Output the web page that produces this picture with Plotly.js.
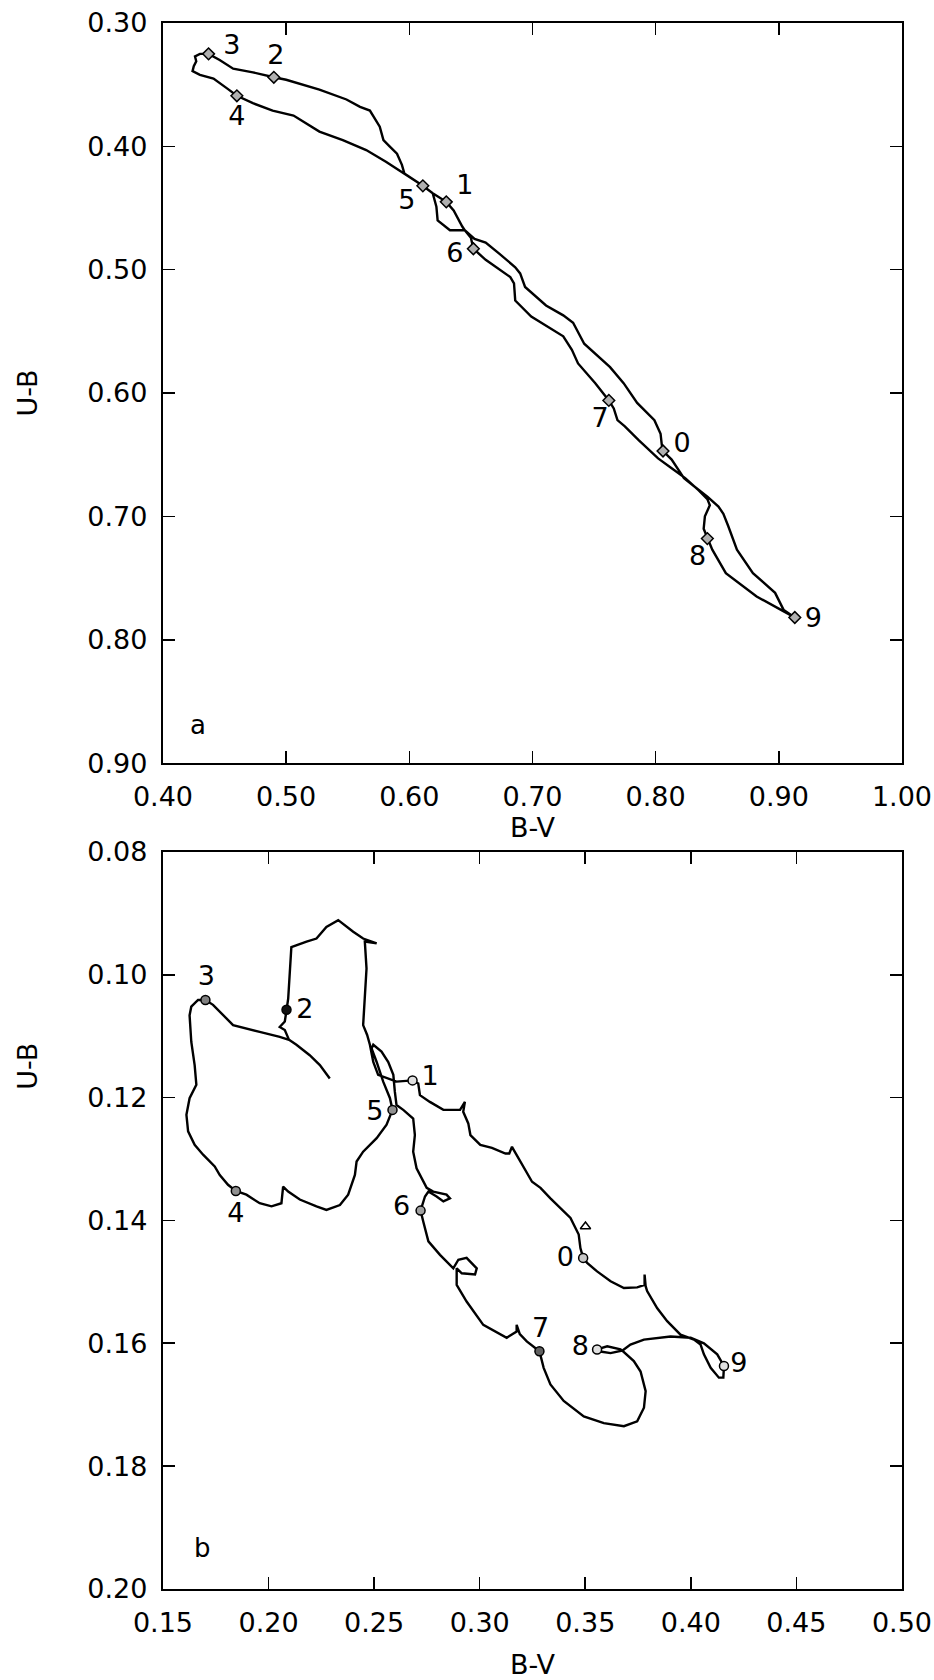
<!DOCTYPE html>
<html>
<head>
<meta charset="utf-8">
<script src="https://cdn.plot.ly/plotly-3.0.1.min.js"></script>
<style>
  html, body { margin: 0; padding: 0; background: #ffffff; }
  #chart { width: 934px; height: 1680px; }
</style>
</head>
<body>
<div id="chart"></div>
<script>
// ---------- Panel a : U-B vs B-V loop ----------
const bvA = [0.806,0.805,0.804,0.799,0.785,0.774,0.763,0.742,0.733,0.725,0.711,0.694,0.690,0.686,0.673,0.662,0.653,0.645,0.643,0.636,0.630,0.619,0.611,0.596,0.594,0.590,0.584,0.579,0.576,0.573,0.568,0.560,0.549,0.527,0.511,0.500,0.490,0.473,0.457,0.446,0.437,0.430,0.426,0.427,0.425,0.424,0.430,0.441,0.452,0.460,0.473,0.489,0.506,0.514,0.527,0.546,0.565,0.581,0.596,0.611,0.619,0.622,0.623,0.633,0.645,0.650,0.652,0.662,0.682,0.685,0.686,0.699,0.725,0.732,0.737,0.751,0.762,0.766,0.769,0.775,0.786,0.802,0.813,0.824,0.835,0.842,0.844,0.840,0.839,0.842,0.846,0.857,0.882,0.904,0.913,0.904,0.897,0.879,0.866,0.859,0.855,0.851,0.842,0.833,0.823,0.813,0.806];
const ubA = [0.647,0.642,0.633,0.622,0.608,0.592,0.579,0.560,0.543,0.537,0.529,0.514,0.503,0.498,0.487,0.478,0.475,0.468,0.465,0.452,0.445,0.438,0.432,0.422,0.415,0.406,0.400,0.395,0.384,0.379,0.371,0.368,0.362,0.354,0.349,0.346,0.344,0.340,0.337,0.330,0.325,0.325,0.327,0.331,0.335,0.339,0.342,0.345,0.353,0.359,0.365,0.371,0.375,0.380,0.388,0.395,0.403,0.4125,0.422,0.432,0.438,0.449,0.460,0.468,0.468,0.474,0.483,0.492,0.506,0.511,0.525,0.538,0.554,0.565,0.576,0.592,0.606,0.6125,0.622,0.627,0.638,0.653,0.661,0.669,0.679,0.686,0.691,0.700,0.710,0.718,0.727,0.746,0.765,0.777,0.782,0.776,0.762,0.746,0.727,0.708,0.698,0.692,0.684,0.677,0.669,0.654,0.647];

const phaseLabels = ["0","1","2","3","4","5","6","7","8","9"];
const markBvA = [0.806,0.630,0.490,0.437,0.460,0.611,0.652,0.762,0.842,0.913];
const markUbA = [0.647,0.445,0.344,0.325,0.359,0.432,0.483,0.606,0.718,0.782];
const labBvA  = [0.8214,0.645,0.4916,0.456,0.460,0.598,0.637,0.755,0.834,0.928];
const labUbA  = [0.642,0.433,0.3276,0.3195,0.377,0.445,0.488,0.622,0.734,0.784];

// ---------- Panel b ----------
const bvB = [0.3490,0.3477,0.3469,0.3462,0.3430,0.3335,0.3288,0.3248,0.3201,0.3161,0.3153,0.3140,0.3122,0.3058,0.3003,0.2956,0.2946,0.2922,0.2930,0.2907,0.2828,0.2764,0.2717,0.2709,0.2682,0.2606,0.2519,0.2496,0.2480,0.2467,0.2448,0.2456,0.2464,0.2456,0.2512,0.2448,0.2401,0.2330,0.2274,0.2227,0.2180,0.2108,0.2101,0.2093,0.2085,0.2077,0.2053,0.2077,0.2097,0.2053,0.1958,0.1832,0.1737,0.1701,0.1666,0.1634,0.1626,0.1634,0.1650,0.1658,0.1626,0.1611,0.1619,0.1650,0.1690,0.1745,0.1769,0.1808,0.1845,0.1895,0.1958,0.2014,0.2061,0.2069,0.2093,0.2148,0.2227,0.2274,0.2338,0.2377,0.2409,0.2417,0.2448,0.2512,0.2559,0.2587,0.2575,0.2543,0.2512,0.2488,0.2496,0.2535,0.2567,0.2591,0.2598,0.2606,0.2638,0.2685,0.2693,0.2685,0.2701,0.2749,0.2780,0.2843,0.2859,0.2828,0.2796,0.2757,0.2741,0.2730,0.2720,0.2733,0.2757,0.2812,0.2875,0.2899,0.2938,0.2986,0.2978,0.2915,0.2891,0.2891,0.2938,0.3017,0.3128,0.3175,0.3175,0.3190,0.3223,0.3283,0.3303,0.3335,0.3398,0.3493,0.3588,0.3683,0.3746,0.3778,0.3786,0.3762,0.3730,0.3675,0.3620,0.3564,0.3556,0.3604,0.3667,0.3675,0.3714,0.3778,0.3904,0.3999,0.4062,0.4125,0.4157,0.4154,0.4133,0.4094,0.4062,0.4046,0.4015,0.3951,0.3888,0.3841,0.3793,0.3786,0.3781,0.3781,0.3746,0.3683,0.3620,0.3556,0.3509,0.3490,null,0.2097,0.2132,0.2195,0.2243,0.2290];
const ubB = [0.1461,0.1445,0.1423,0.1418,0.1396,0.1364,0.1347,0.1337,0.1310,0.1285,0.1280,0.1291,0.1291,0.1282,0.1277,0.1261,0.1242,0.1223,0.1207,0.1220,0.1220,0.1207,0.1196,0.1177,0.1172,0.1174,0.1163,0.1142,0.1114,0.1098,0.1082,0.1044,0.0990,0.0946,0.0949,0.0941,0.0930,0.0911,0.0922,0.0941,0.0946,0.0955,0.0990,0.1039,0.1058,0.1076,0.1085,0.1090,0.1106,0.1101,0.1093,0.1082,0.1049,0.1041,0.1041,0.1052,0.1066,0.1109,0.1147,0.1179,0.1201,0.1228,0.1255,0.1277,0.1293,0.1312,0.1326,0.1342,0.1352,0.1358,0.1372,0.1377,0.1372,0.1345,0.1353,0.1366,0.1377,0.1383,0.1375,0.1358,0.1326,0.1304,0.1288,0.1266,0.1244,0.1220,0.1201,0.1174,0.1142,0.1120,0.1114,0.1125,0.1142,0.1163,0.1190,0.1212,0.1220,0.1234,0.1261,0.1288,0.1315,0.1347,0.1353,0.1358,0.1364,0.1369,0.1361,0.1353,0.1361,0.1375,0.1384,0.1402,0.1434,0.1456,0.1478,0.1464,0.1461,0.1478,0.1488,0.1486,0.1478,0.1505,0.1532,0.1570,0.1591,0.1581,0.1570,0.1585,0.1597,0.1613,0.1640,0.1667,0.1694,0.1719,0.1730,0.1735,0.1727,0.1705,0.1678,0.1646,0.1629,0.1612,0.1616,0.1613,0.1610,0.1605,0.1610,0.1612,0.1602,0.1594,0.1589,0.1591,0.1600,0.1618,0.1637,0.1656,0.1656,0.1640,0.1618,0.1602,0.1594,0.1586,0.1564,0.1543,0.1515,0.1507,0.1488,0.1505,0.1509,0.1510,0.1499,0.1483,0.1469,0.1461,null,0.1106,0.1114,0.1131,0.1147,0.1169];

const markBvB = [0.3490,0.2682,0.2085,0.1701,0.1845,0.2587,0.2720,0.3283,0.3556,0.4157];
const markUbB = [0.1461,0.1172,0.1057,0.1041,0.1352,0.1220,0.1384,0.1613,0.1610,0.1637];
const labBvB  = [0.3406,0.2765,0.2172,0.1705,0.1845,0.2504,0.2630,0.3288,0.3477,0.4228];
const labUbB  = [0.1464,0.1169,0.1060,0.1006,0.1391,0.1226,0.1380,0.1578,0.1608,0.1635];
const markFillB = ["#c8c8c8","#e0e0e0","#111111","#808080","#909090","#909090","#a0a0a0","#606060","#e0e0e0","#e0e0e0"];
const triBvB = [0.3501];
const triUbB = [0.1410];

const xTickA = [0.40,0.50,0.60,0.70,0.80,0.90,1.00];
const yTickA = [0.30,0.40,0.50,0.60,0.70,0.80,0.90];
const xTickB = [0.15,0.20,0.25,0.30,0.35,0.40,0.45,0.50];
const yTickB = [0.08,0.10,0.12,0.14,0.16,0.18,0.20];
const fmt = v => v.toFixed(2);

const FONT = "DejaVu Sans, Arial, sans-serif";
const lineStyle = {color: "#000", width: 2.4};

const traces = [
  {x: bvA, y: ubA, xaxis: "x", yaxis: "y", mode: "lines", line: lineStyle, hoverinfo: "skip"},
  {x: markBvA, y: markUbA, xaxis: "x", yaxis: "y", mode: "markers",
   marker: {symbol: "diamond", size: 9, color: "#b0b0b0", line: {color: "#000", width: 1.5}}},
  {x: labBvA, y: labUbA, xaxis: "x", yaxis: "y", mode: "text", text: phaseLabels,
   textposition: "middle center", textfont: {family: FONT, size: 27, color: "#000"}},
  {x: bvB, y: ubB, xaxis: "x2", yaxis: "y2", mode: "lines", line: lineStyle, connectgaps: false, hoverinfo: "skip"},
  {x: triBvB, y: triUbB, xaxis: "x2", yaxis: "y2", mode: "markers",
   marker: {symbol: "triangle-up-open", size: 9, color: "#000", line: {width: 1.5}}},
  {x: markBvB, y: markUbB, xaxis: "x2", yaxis: "y2", mode: "markers",
   marker: {symbol: "circle", size: 9, color: markFillB, line: {color: "#000", width: 1.5}}},
  {x: labBvB, y: labUbB, xaxis: "x2", yaxis: "y2", mode: "text", text: phaseLabels,
   textposition: "middle center", textfont: {family: FONT, size: 27, color: "#000"}}
];

function axisBase(extra) {
  return Object.assign({
    showline: true, linecolor: "#000", linewidth: 2.2, mirror: "ticks",
    ticks: "inside", ticklen: 12, tickwidth: 1.6, tickcolor: "#000",
    showgrid: false, zeroline: false, automargin: false,
    tickfont: {family: FONT, size: 27, color: "#000"}
  }, extra);
}

const layout = {
  width: 934, height: 1680,
  margin: {l: 0, r: 0, t: 0, b: 0},
  paper_bgcolor: "#fff", plot_bgcolor: "#fff",
  showlegend: false,
  font: {family: FONT, color: "#000"},
  xaxis: axisBase({domain: [0.1745, 0.9657], anchor: "y", range: [0.40, 1.00],
    tickmode: "array", tickvals: xTickA, ticktext: xTickA.map(fmt), ticklabelstandoff: 8,
    title: {text: "B-V", font: {family: FONT, size: 27}, standoff: 4}}),
  yaxis: axisBase({domain: [0.5458, 0.9863], anchor: "x", range: [0.90, 0.30],
    tickmode: "array", tickvals: yTickA, ticktext: yTickA.map(fmt), ticklabelstandoff: 8,
    title: {text: "U-B", font: {family: FONT, size: 27}, standoff: 42}}),
  xaxis2: axisBase({domain: [0.1745, 0.9657], anchor: "y2", range: [0.15, 0.50],
    tickmode: "array", tickvals: xTickB, ticktext: xTickB.map(fmt), ticklabelstandoff: 8,
    title: {text: "B-V", font: {family: FONT, size: 27}, standoff: 24}}),
  yaxis2: axisBase({domain: [0.0542, 0.4929], anchor: "x2", range: [0.20, 0.08],
    tickmode: "array", tickvals: yTickB, ticktext: yTickB.map(fmt), ticklabelstandoff: 8}),
  annotations: [
    {text: "U-B", x: 0.030, y: 0.365, xref: "paper", yref: "paper", textangle: -90,
     xanchor: "center", yanchor: "middle", showarrow: false,
     font: {family: FONT, size: 27, color: "#000"}},
    {text: "a", x: 0.4284, y: 0.869, xref: "x", yref: "y", showarrow: false,
     font: {family: FONT, size: 26, color: "#000"}},
    {text: "b", x: 0.1688, y: 0.1933, xref: "x2", yref: "y2", showarrow: false,
     font: {family: FONT, size: 26, color: "#000"}}
  ]
};

Plotly.newPlot("chart", traces, layout, {staticPlot: true, displayModeBar: false});
</script>
</body>
</html>
